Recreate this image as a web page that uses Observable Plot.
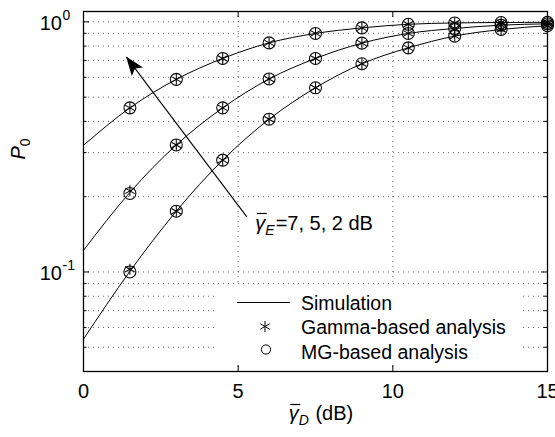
<!DOCTYPE html>
<html><head><meta charset="utf-8">
<script src="https://cdn.jsdelivr.net/npm/d3@7"></script>
<script src="https://cdn.jsdelivr.net/npm/@observablehq/plot@0.6"></script>
<style>
body{margin:0;background:#fff;}
svg{font-family:"Liberation Sans",Arial,Helvetica,sans-serif;}
</style>
</head><body><div id="chart"></div>
<script>
// ---- data ----
const snrSim = [0, 1.5, 3, 4.5, 6, 7.5, 9, 10.5, 12, 13.5, 15];
const simE7 = [0.321, 0.453, 0.589, 0.714, 0.824, 0.899, 0.946, 0.978, 0.990, 0.994, 0.996];
const simE5 = [0.122, 0.208, 0.322, 0.453, 0.591, 0.714, 0.822, 0.899, 0.941, 0.970, 0.982];
const simE2 = [0.0539, 0.1006, 0.175, 0.280, 0.408, 0.545, 0.680, 0.787, 0.877, 0.932, 0.965];

const snrMarks = [1.5, 3, 4.5, 6, 7.5, 9, 10.5, 12, 13.5, 15];
const gammaE7 = [0.453, 0.589, 0.714, 0.824, 0.899, 0.946, 0.978, 0.990, 0.994, 0.996];
const gammaE5 = [0.211, 0.322, 0.453, 0.591, 0.714, 0.822, 0.899, 0.941, 0.970, 0.982];
const gammaE2 = [0.1025, 0.175, 0.280, 0.408, 0.545, 0.680, 0.787, 0.877, 0.932, 0.965];
const mgE7 = [0.453, 0.589, 0.714, 0.824, 0.899, 0.946, 0.978, 0.990, 0.994, 0.996];
const mgE5 = [0.206, 0.322, 0.453, 0.591, 0.714, 0.822, 0.899, 0.941, 0.970, 0.982];
const mgE2 = [0.100, 0.175, 0.280, 0.408, 0.545, 0.680, 0.787, 0.877, 0.932, 0.965];

const seriesNames = ["7 dB", "5 dB", "2 dB"];
const xTicks = [0, 5, 10, 15];
const xGrid = [5, 10];
const yMajorTicks = [0.1, 1];
const yMajorExponents = ["-1", "0"];
const yMinorTicks = [0.04, 0.05, 0.06, 0.07, 0.08, 0.09, 0.2, 0.3, 0.4, 0.5, 0.6, 0.7, 0.8, 0.9];
const yGrid = [0.05, 0.06, 0.07, 0.08, 0.09, 0.1, 0.2, 0.3, 0.4, 0.5, 0.6, 0.7, 0.8, 0.9, 1];
const arrowTail = [5.28, 0.166];
const arrowTip = [1.39, 0.723];
const annotationPos = [5.57, 0.1465];
const annotationText = "=7, 5, 2 dB";
const legendLabels = ["Simulation", "Gamma-based analysis", "MG-based analysis"];

// ---- tables ----
const simSets = [simE7, simE5, simE2];
const gammaSets = [gammaE7, gammaE5, gammaE2];
const mgSets = [mgE7, mgE5, mgE2];
const simRows = simSets.flatMap((arr, i) => arr.map((v, j) => ({x: snrSim[j], y: v, s: seriesNames[i]})));
const gammaRows = gammaSets.flatMap((arr, i) => arr.map((v, j) => ({x: snrMarks[j], y: v, s: seriesNames[i]})));
const mgRows = mgSets.flatMap((arr, i) => arr.map((v, j) => ({x: snrMarks[j], y: v, s: seriesNames[i]})));

const W = 555, H = 437, mL = 83, mR = 8, mT = 11, mB = 66;
const fw = W - mL - mR, fh = H - mT - mB;
const gridStyle = {stroke: "#000", strokeOpacity: 0.6, strokeWidth: 1, strokeDasharray: "1,4"};

const plot = Plot.plot({
  width: W, height: H,
  marginLeft: mL, marginRight: mR, marginTop: mT, marginBottom: mB,
  style: {background: "#fff", color: "#000", fontFamily: "Liberation Sans, Arial, sans-serif"},
  x: {domain: [0, 15]},
  y: {type: "log", domain: [0.04, 1.1], axis: null},
  marks: [
    Plot.gridY(yGrid, gridStyle),
    Plot.gridX(xGrid, gridStyle),
    Plot.line(simRows, {x: "x", y: "y", z: "s", curve: "monotone-x", stroke: "#000", strokeWidth: 1}),
    Plot.dot(mgRows, {x: "x", y: "y", r: 6, symbol: "circle", stroke: "#000", strokeWidth: 1.05}),
    Plot.dot(gammaRows, {x: "x", y: "y", r: 5.2, symbol: "asterisk", stroke: "#000", strokeWidth: 1.05}),
    Plot.link([{x1: arrowTail[0], y1: arrowTail[1], x2: arrowTip[0], y2: arrowTip[1]}],
      {x1: "x1", y1: "y1", x2: "x2", y2: "y2", stroke: "#000", strokeWidth: 1.1}),
    Plot.frame({stroke: "#000", strokeWidth: 1.3}),
    Plot.ruleX(xTicks, {x: d => d, insetTop: fh - 6, stroke: "#000"}),
    Plot.ruleX(xTicks, {x: d => d, insetBottom: fh - 6, stroke: "#000"}),
    Plot.ruleY(yMajorTicks, {y: d => d, insetRight: fw - 6, stroke: "#000"}),
    Plot.ruleY(yMajorTicks, {y: d => d, insetLeft: fw - 6, stroke: "#000"}),
    Plot.ruleY(yMinorTicks, {y: d => d, insetRight: fw - 3.5, stroke: "#000"}),
    Plot.ruleY(yMinorTicks, {y: d => d, insetLeft: fw - 3.5, stroke: "#000"}),
    Plot.axisX(xTicks, {tickSize: 0, tickPadding: 12, fontSize: 20, label: null}),
    Plot.text(yMajorTicks, {y: d => d, frameAnchor: "left", text: () => "10", textAnchor: "end", dx: -21.5, dy: 2, fontSize: 20}),
    Plot.text(yMajorTicks, {y: d => d, frameAnchor: "left", text: (d, i) => yMajorExponents[i], textAnchor: "start", dx: -21, dy: -6.5, fontSize: 14})
  ]
});
document.getElementById("chart").appendChild(plot);

// ---- post-processing: rich labels, arrowhead, legend ----
const svg = d3.select(plot);
const xs = plot.scale("x"), ys = plot.scale("y");
const X = v => xs.apply(v), Y = v => ys.apply(v);

function richText(parent, segs) {
  const g = parent.append("g").attr("text-anchor", "start");
  let cx = 0;
  for (const s of segs) {
    const t = g.append("text").attr("x", cx).attr("y", s.sub ? 5 : 0)
      .attr("text-anchor", "start")
      .attr("font-size", s.size).attr("fill", "#000")
      .attr("font-style", s.italic ? "italic" : null).text(s.t);
    const w = t.node().getComputedTextLength();
    if (s.over) {
      g.append("line").attr("x1", cx + 1.5).attr("x2", cx + w + 1.5)
        .attr("y1", -s.over).attr("y2", -s.over).attr("stroke", "#000").attr("stroke-width", 1.2);
    }
    cx += w + (s.kern || 0);
  }
  return {g, width: cx};
}

// arrowhead
{
  const tx = X(arrowTip[0]), ty = Y(arrowTip[1]);
  const ang = Math.atan2(ty - Y(arrowTail[1]), tx - X(arrowTail[0])) * 180 / Math.PI;
  svg.append("path").attr("d", "M0,0L-19,-7L-15,0L-19,7Z").attr("fill", "#000")
    .attr("transform", `translate(${tx},${ty}) rotate(${ang})`);
}

// annotation
{
  const r = richText(svg, [
    {t: "γ", size: 20, italic: true, over: 16.5},
    {t: "E", size: 14, italic: true, sub: true, kern: 1},
    {t: annotationText, size: 20}
  ]);
  r.g.attr("transform", `translate(${X(annotationPos[0])},${Y(annotationPos[1])})`);
}

// x label
{
  const r = richText(svg, [
    {t: "γ", size: 20, italic: true, over: 15.5},
    {t: "D", size: 14, italic: true, sub: true, kern: 1},
    {t: " (dB)", size: 20}
  ]);
  r.g.attr("transform", `translate(${(mL + W - mR) / 2 + 6 - r.width / 2},420)`);
}

// y label
{
  const r = richText(svg, [
    {t: "P", size: 20, italic: true},
    {t: "0", size: 14, sub: true}
  ]);
  r.g.attr("transform", `translate(25,149) rotate(-90) translate(${-r.width / 2},0)`);
}

// legend
{
  const lg = svg.append("g").attr("text-anchor", "start");
  lg.append("rect").attr("x", 214).attr("y", 286).attr("width", 305).attr("height", 78).attr("fill", "#fff");
  lg.append("line").attr("x1", 237).attr("x2", 290).attr("y1", 302.5).attr("y2", 302.5).attr("stroke", "#000").attr("stroke-width", 1);
  lg.append("path").attr("d", d3.symbol(d3.symbolAsterisk, 5.2 * 5.2 * Math.PI)()).attr("transform", "translate(265,326.5)")
    .attr("fill", "none").attr("stroke", "#000").attr("stroke-width", 1);
  lg.append("circle").attr("cx", 266).attr("cy", 349.5).attr("r", 4.6).attr("fill", "none").attr("stroke", "#000").attr("stroke-width", 1);
  const baselines = [309.5, 334, 358.5];
  legendLabels.forEach((t, i) => {
    lg.append("text").attr("x", 301).attr("y", baselines[i]).attr("text-anchor", "start")
      .attr("font-size", 19.5).attr("fill", "#000").text(t);
  });
}
</script>
</body></html>
